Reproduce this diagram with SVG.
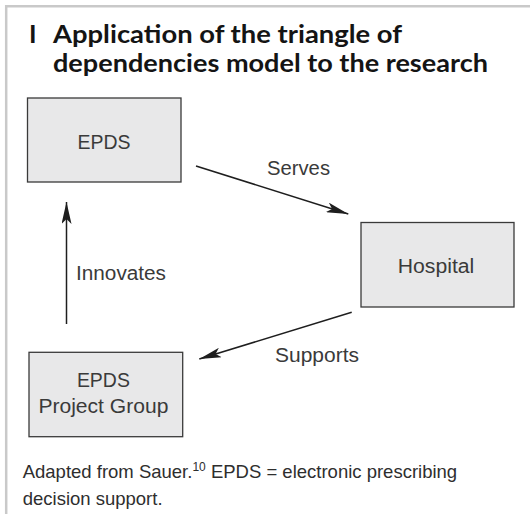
<svg xmlns="http://www.w3.org/2000/svg" width="530" height="514" viewBox="0 0 530 514">
  <style>
    .frame { stroke: #c9c9c9; stroke-width: 2.5; fill: none; }
    .title { font-family: "Lato", "Open Sans", "Liberation Sans", sans-serif; font-weight: 700; font-size: 25.5px; fill: #141414; }
    .box { fill: #e8e8e9; stroke: #3a3a3a; stroke-width: 1.3; }
    .label { font-family: "Liberation Sans", Arial, sans-serif; font-size: 20px; fill: #3a3a3a; }
    .caption { font-family: "Liberation Sans", Arial, sans-serif; font-size: 18.5px; fill: #2e2e2e; }
    .conn { stroke: #1e1e1e; stroke-width: 1.5; fill: none; marker-end: url(#arrow); }
  </style>
  <defs>
    <marker id="arrow" markerUnits="userSpaceOnUse" viewBox="0 0 22 10" refX="22" refY="5" markerWidth="22" markerHeight="10" orient="auto">
      <path d="M0,0 L22,5 L0,10 L5,5 Z" fill="#1e1e1e"/>
    </marker>
  </defs>

  <rect width="530" height="514" fill="#ffffff"/>

  <!-- panel frame -->
  <path class="frame" d="M6.2,514 V6.2 H530"/>

  <!-- heading -->
  <g id="title">
    <text class="title" x="29" y="42.5">I</text>
    <text class="title" x="53" y="42.5" textLength="349" lengthAdjust="spacingAndGlyphs">Application of the triangle of</text>
    <text class="title" x="53" y="71.5" textLength="435" lengthAdjust="spacingAndGlyphs">dependencies model to the research</text>
  </g>

  <!-- connectors -->
  <g id="connectors">
    <line class="conn" x1="196" y1="166" x2="348.3" y2="214"/>
    <text class="label" x="267" y="175" textLength="63" lengthAdjust="spacingAndGlyphs">Serves</text>

    <line class="conn" x1="351.7" y1="312.3" x2="199.3" y2="359"/>
    <text class="label" x="275" y="361.7" textLength="84" lengthAdjust="spacingAndGlyphs">Supports</text>

    <line class="conn" x1="66.5" y1="324" x2="66.5" y2="202"/>
    <text class="label" x="76" y="280" textLength="90" lengthAdjust="spacingAndGlyphs">Innovates</text>
  </g>

  <!-- nodes -->
  <g id="node-epds">
    <rect class="box" x="27.5" y="98" width="153.5" height="84"/>
    <text class="label" x="104" y="149" text-anchor="middle" textLength="53" lengthAdjust="spacingAndGlyphs">EPDS</text>
  </g>

  <g id="node-hospital">
    <rect class="box" x="361" y="222.5" width="153" height="84.5"/>
    <text class="label" x="436" y="272.7" text-anchor="middle" textLength="76.5" lengthAdjust="spacingAndGlyphs">Hospital</text>
  </g>

  <g id="node-project-group">
    <rect class="box" x="29" y="352.3" width="153.7" height="84.4"/>
    <text class="label" x="103.4" y="386.7" text-anchor="middle" textLength="53" lengthAdjust="spacingAndGlyphs">EPDS</text>
    <text class="label" x="103.4" y="412.7" text-anchor="middle" textLength="130" lengthAdjust="spacingAndGlyphs">Project Group</text>
  </g>

  <!-- caption -->
  <g id="caption">
    <text class="caption" x="22.7" y="478">Adapted from Sauer.<tspan font-size="12" dy="-7.5">10</tspan><tspan dy="7.5"> EPDS = electronic prescribing</tspan></text>
    <text class="caption" x="22.7" y="505">decision support.</text>
  </g>
</svg>
